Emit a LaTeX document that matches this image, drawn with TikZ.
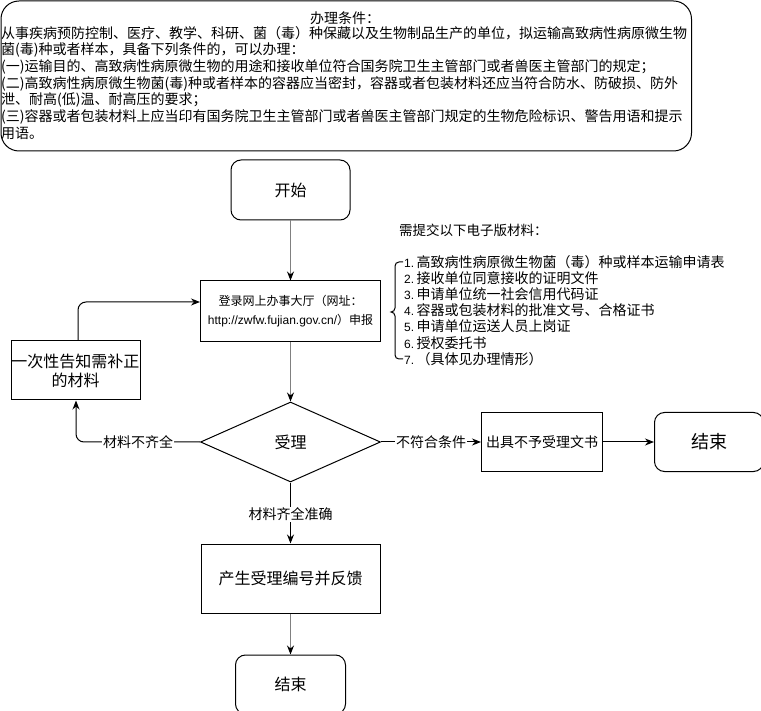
\documentclass[tikz,border=0pt]{standalone}
\usepackage{fontspec}
\setmainfont{Noto Sans CJK SC}
\newfontfamily\latin{Liberation Sans}
\usetikzlibrary{shapes.geometric,arrows.meta,positioning}
\tikzset{
	box/.style={draw=black,line width=1pt,inner sep=0pt,align=center},roundbox/.style={box,rounded corners=10pt},
	decision/.style={draw=black,line width=1pt,diamond,aspect=2.25,inner sep=0pt,minimum width=180pt,minimum height=80pt},
	flow/.style={-{Stealth[length=9pt,width=7pt]},draw=black,line width=1pt},grayflow/.style={flow,draw=gray,-{Stealth[length=9pt,width=7pt,color=black]}},
	edgelabel/.style={fill=white,inner sep=1pt,font=\fontsize{14}{16}\selectfont}
}
\newcommand{\docnum}[1]{{\latin\fontsize{12}{14}\selectfont #1.}\,}

\begin{document}
\begin{tikzpicture}[x=1pt,y=-1pt]
		\useasboundingbox (0,0) rectangle (761,711);
		% conditions
		\node[box,rounded corners=18pt,anchor=north west,minimum width=690.5pt,minimum height=150pt] (cond) at (0.5,0.5) {};
		\node[font=\fontsize{14}{16}\selectfont] (condtitle) at (345,18) {办理条件：};
		\node[anchor=north west,inner sep=0pt,align=left,font=\fontsize{14}{16.67}\selectfont] (condtext) at (1,26) {从事疾病预防控制、医疗、教学、科研、菌（毒）种保藏以及生物制品生产的单位，拟运输高致病性病原微生物\\菌(毒)种或者样本，具备下列条件的，可以办理：\\(一)运输目的、高致病性病原微生物的用途和接收单位符合国务院卫生主管部门或者兽医主管部门的规定；\\(二)高致病性病原微生物菌(毒)种或者样本的容器应当密封，容器或者包装材料还应当符合防水、防破损、防外\\泄、耐高(低)温、耐高压的要求；\\(三)容器或者包装材料上应当印有国务院卫生主管部门或者兽医主管部门规定的生物危险标识、警告用语和提示\\用语。};
		% main flow
		\node[roundbox,minimum width=119pt,minimum height=60pt,font=\fontsize{16}{19}\selectfont] (start) at (290.5,190) {开始};
		\node[box,below=60pt of start,minimum width=180pt,minimum height=61pt,font=\fontsize{12}{19}\selectfont] (login) {登录网上办事大厅（网址：\\{\latin http://zwfw.fujian.gov.cn/}）申报};
		\node[decision,below=59pt of login,font=\fontsize{16}{19}\selectfont] (accept) {受理};
		\node[box,below=61pt of accept,minimum width=179pt,minimum height=69pt,font=\fontsize{16}{19}\selectfont] (produce) {产生受理编号并反馈};
		\node[roundbox,below=41pt of produce,minimum width=110pt,minimum height=59pt,font=\fontsize{16}{19}\selectfont] (endB) {结束};
		\node[box,right=100pt of accept,minimum width=121pt,minimum height=59pt,font=\fontsize{14}{16}\selectfont] (refuse) {出具不予受理文书};
		\node[roundbox,right=51pt of refuse,minimum width=109pt,minimum height=59pt,font=\fontsize{18}{21}\selectfont] (endA) {结束};
		\node[box,minimum width=129pt,minimum height=59pt,font=\fontsize{16}{19}\selectfont] (fix) at (75.5,370.5) {一次性告知需补正\\的材料};
		% materials list
		\node[anchor=west,inner sep=0pt,font=\fontsize{13.5}{16}\selectfont] (needs) at (399,230) {需提交以下电子版材料：};
		\node[anchor=north west,inner sep=0pt,align=left,font=\fontsize{14}{16.17}\selectfont] (docs) at (404,255) {\docnum{1}高致病性病原微生物菌（毒）种或样本运输申请表\\\docnum{2}接收单位同意接收的证明文件\\\docnum{3}申请单位统一社会信用代码证\\\docnum{4}容器或包装材料的批准文号、合格证书\\\docnum{5}申请单位运送人员上岗证\\\docnum{6}授权委托书\\\docnum{7}（具体见办理情形）};
		\draw[line width=1pt] (403,262) -- (399,262) to[out=180,in=90] (395,266) -- (395,308) to[out=-90,in=0] (391,312) to[out=0,in=90] (395,316) -- (395,355) to[out=-90,in=180] (399,359) -- (403,359);
		% connectors
		\draw[grayflow] (start) -- (login);
		\draw[grayflow] (login) -- (accept);
		\draw[flow] (accept.east) -- node[edgelabel] (lblrefuse) {不符合条件} (refuse.west);
		\draw[flow] (refuse) -- (endA);
		\draw[flow] (accept.south) -- node[edgelabel,pos=0.52] (lblok) {材料齐全准确} (produce.north);
		\draw[grayflow] (produce) -- (endB);
		\draw[flow,rounded corners=8pt] (accept.west) -| node[edgelabel,pos=0.25] (lblmiss) {材料不齐全} ([xshift=0.5pt]fix.south);
		\draw[flow,rounded corners=8pt] ([xshift=2.5pt]fix.north) |- ([yshift=9.5pt]login.west);
		\end{tikzpicture}
\end{document}
